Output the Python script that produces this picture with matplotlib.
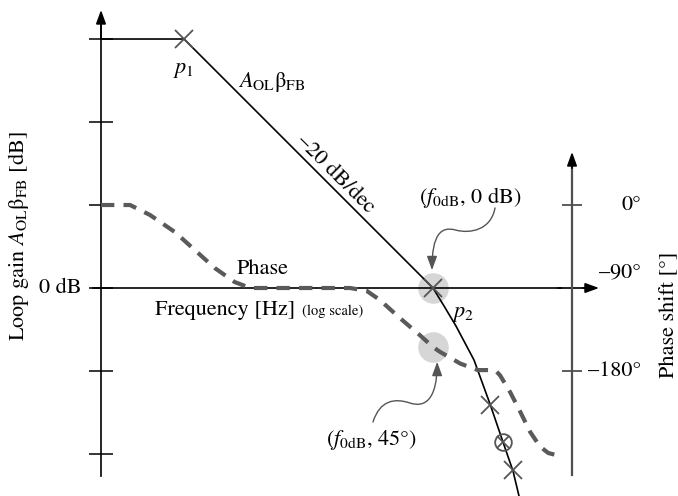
import matplotlib
matplotlib.use("Agg")
import matplotlib.pyplot as plt
from matplotlib.path import Path
from matplotlib.patches import FancyArrowPatch

plt.rcParams["font.family"] = ["STIXGeneral", "DejaVu Sans"]
plt.rcParams["mathtext.fontset"] = "stix"

# Frequency in decades (log scale), gain in dB
gain_freq = [0.0, 1.0, 4.0, 4.133, 4.277, 4.494, 4.687, 4.843, 4.964, 5.036]
gain_db = [60, 60, 0, -4.34, -9.16, -17.35, -27.95, -37.1, -44.1, -50.1]

# Poles / zeros marked on the gain curve
pole_freq = [1.0, 4.0, 4.69, 4.96]
pole_db = [60, 0, -28.1, -43.9]
zero_freq = [4.843]
zero_db = [-37.1]

# Phase response in degrees
phase_freq = [0.0, 0.35, 0.59, 0.89, 1.13, 1.37, 1.61, 1.80, 2.4, 3.0, 3.2,
              3.36, 3.60, 3.84, 4.0, 4.08, 4.33, 4.54, 4.69, 4.76, 4.81,
              4.93, 5.05, 5.17, 5.29, 5.39, 5.48]
phase_deg = [0, 0, -10.8, -29.3, -48.8, -68.3, -83.5, -90, -90, -90, -93,
             -103, -122.5, -141, -154, -159, -172, -179, -179, -180, -185,
             -203, -224, -246, -262, -269, -271]

# Crossover frequency (0 dB) and the phase there
f_cross = 4.0
gain_cross = 0
phase_cross = -154

gain_ticks = [60, 40, 20, 0, -20, -40]
freq_ticks = [1, 2, 3, 4, 5]
phase_ticks = [0, -90, -180]
phase_tick_labels = ["0°", "–90°", "–180°"]

DB_PER_UNIT = 20.0
DEG_PER_UNIT = 90.0
PHASE_ZERO_DB = 20.0   # 0° sits level with the +20 dB tick

fig = plt.figure(figsize=(6.78, 4.96), dpi=100)
ax = fig.add_axes([0, 0, 1, 1])
xlim = (-1.2169, 6.9518)
ylim = (-50.12, 69.40)
ax.set_xlim(*xlim)
ax.set_ylim(*ylim)
ax.patch.set_visible(False)

ax2 = ax.twinx()
ax2.set_ylim((ylim[0] - PHASE_ZERO_DB) * DEG_PER_UNIT / DB_PER_UNIT,
             (ylim[1] - PHASE_ZERO_DB) * DEG_PER_UNIT / DB_PER_UNIT)
ax2.set_position([0, 0, 1, 1])

for a in (ax, ax2):
    for s in a.spines.values():
        s.set_visible(False)

# Left (gain) axis
ax.spines["left"].set_visible(True)
ax.spines["left"].set_position(("data", 0))
ax.spines["left"].set_bounds(-45.3, 66.0)
ax.spines["left"].set_linewidth(1.2)
ax.set_yticks(gain_ticks)
ax.set_yticklabels([""] * len(gain_ticks))
ax.tick_params(axis="y", direction="inout", length=17, width=1.1, color="k")

# Frequency axis
ax.spines["bottom"].set_visible(True)
ax.spines["bottom"].set_position(("data", 0))
ax.spines["bottom"].set_bounds(-0.096, 5.9)
ax.spines["bottom"].set_linewidth(1.2)
ax.set_xticks(freq_ticks)
ax.set_xticklabels([""] * len(freq_ticks))
ax.tick_params(axis="x", direction="inout", length=16, width=1.1, color="k")

# Phase axis on the right
x_phase_axis = 5.675
ax2.spines["left"].set_visible(True)
ax2.spines["left"].set_position(("data", x_phase_axis))
ax2.spines["left"].set_bounds(-292.8, 52.0)
ax2.spines["left"].set_linewidth(1.6)
ax2.spines["left"].set_color("#505050")
ax2.yaxis.set_ticks_position("left")
ax2.set_yticks(phase_ticks)
ax2.set_yticklabels([""] * len(phase_ticks))
ax2.tick_params(axis="y", direction="inout", length=14, width=1.1, color="#303030")
ax2.set_xticks([])

arrow_kw = dict(arrowstyle="-|>,head_length=0.55,head_width=0.2",
                mutation_scale=15, shrinkA=0, shrinkB=0)
ax.annotate("", xy=(0, 67.0), xytext=(0, 60),
            arrowprops=dict(color="k", lw=1.2, **arrow_kw))
ax.annotate("", xy=(6.0, 0), xytext=(5.5, 0),
            arrowprops=dict(color="k", lw=1.2, **arrow_kw))
ax2.annotate("", xy=(x_phase_axis, 57.5), xytext=(x_phase_axis, 40),
             arrowprops=dict(color="k", lw=1.2, **arrow_kw))

# Highlight circles at the crossover point
ax.plot([f_cross], [gain_cross], "o", ms=22, color="#d6d6d6", mec="none", zorder=0.5)
ax2.plot([f_cross], [phase_cross], "o", ms=22, color="#d6d6d6", mec="none", zorder=0.5)

# Phase curve
ax2.plot(phase_freq, phase_deg, color="#5a5a5a", lw=3.0,
         dashes=(3.2, 2.2), solid_capstyle="butt", zorder=2)

# Gain curve
ax.plot(gain_freq, gain_db, color="k", lw=1.2, zorder=3, solid_joinstyle="round")
ax.plot(pole_freq, pole_db, "x", ms=13, mew=1.3, color="#555555", zorder=4)
ax.plot(zero_freq, zero_db, "o", ms=12, mew=1.3, mfc="none", mec="#555555", zorder=4)
ax.plot(zero_freq, zero_db, "x", ms=9, mew=1.3, color="#555555", zorder=4)

fs = 16
ax.text(0.988, 52.5, "$p_1$", fontsize=fs, ha="center", va="center")
ax.text(2.06, 49.6, r"$A_{\rm OL}$β$_{\rm FB}$", fontsize=fs, ha="center", va="center")
ax.text(2.82, 27.4, "–20 dB/dec", fontsize=fs, ha="center", va="center",
        rotation=-45, rotation_mode="anchor")
ax.text(1.95, 4.6, "Phase", fontsize=fs, ha="center", va="center")
ax.text(1.494, -5.3, "Frequency [Hz]", fontsize=fs, ha="center", va="center")
ax.text(3.157, -5.6, "(log scale)", fontsize=10.5, ha="right", va="center")
ax.text(-0.24, 0, "0 dB", fontsize=fs, ha="right", va="center")
ax.text(-1.0, 12.5, r"Loop gain $A_{\rm OL}$β$_{\rm FB}$ [dB]", fontsize=fs,
        ha="center", va="center", rotation=90)
ax.text(4.446, 21.7, r"($f_{\rm 0dB}$, 0 dB)", fontsize=fs, ha="center", va="center")
ax.text(4.36, -6.2, "$p_2$", fontsize=fs, ha="center", va="center")
ax.text(3.265, -36.6, r"($f_{\rm 0dB}$, 45°)", fontsize=fs, ha="center", va="center")

label_x = 6.506
phase_label_y = [0, -72.7, -180]
for y, t in zip(phase_label_y, phase_tick_labels):
    ax2.text(label_x, y, t, fontsize=fs, ha="right", va="center")
ax2.text(6.83, -119, "Phase shift [°]", fontsize=fs, ha="center", va="center",
         rotation=90)

# Curly call-out arrows
call_kw = dict(arrowstyle="-|>,head_length=0.6,head_width=0.22",
               mutation_scale=14, color="#555555", lw=1.0,
               shrinkA=0, shrinkB=0)
path1 = Path([(4.747, 19.3), (4.70, 14.0), (4.45, 13.0), (4.27, 13.98),
              (4.10, 14.9), (3.988, 13.0), (3.988, 4.3)],
             [Path.MOVETO, Path.CURVE4, Path.CURVE4, Path.CURVE4,
              Path.CURVE4, Path.CURVE4, Path.CURVE4])
ax.add_patch(FancyArrowPatch(path=path1, **call_kw))
path2 = Path([(3.277, -32.3), (3.36, -27.0), (3.54, -26.5), (3.72, -27.7),
              (3.90, -28.9), (4.05, -27.0), (4.05, -17.8)],
             [Path.MOVETO, Path.CURVE4, Path.CURVE4, Path.CURVE4,
              Path.CURVE4, Path.CURVE4, Path.CURVE4])
ax.add_patch(FancyArrowPatch(path=path2, **call_kw))

fig.savefig("out.png", dpi=100)
